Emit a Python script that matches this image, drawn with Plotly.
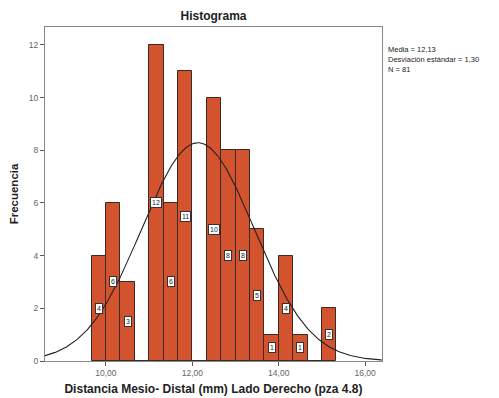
import numpy as np
import plotly.graph_objects as go

# Histogram data (bin edges at multiples of 1/3 mm)
bin_starts = [29/3, 30/3, 31/3, 32/3, 33/3, 34/3, 35/3, 36/3, 37/3, 38/3, 39/3, 40/3, 41/3, 42/3, 43/3, 44/3, 45/3]
counts = [4, 6, 3, 0, 12, 6, 11, 0, 10, 8, 8, 5, 1, 4, 1, 0, 2]
bin_width = 1/3

# Summary statistics shown in the legend
mean_val = 12.13
sd_val = 1.30
n_val = 81

x_tick_vals = [10, 12, 14, 16]
x_tick_text = ["10,00", "12,00", "14,00", "16,00"]
y_tick_vals = [0, 2, 4, 6, 8, 10, 12]

x_range = [8.59, 16.39]
y_range = [0, 12.68]

font_family = "Liberation Sans, Arial, sans-serif"
bar_color = "#D4532F"

centers = [s + bin_width / 2 for s in bin_starts]

fig = go.Figure()
fig.add_trace(go.Bar(
    x=centers, y=counts, width=bin_width,
    marker=dict(color=bar_color, line=dict(color="#3a2a25", width=1)),
    hoverinfo="x+y", showlegend=False,
))

# Normal curve from the stated mean, sd and N (scaled to bin width)
xc = np.linspace(x_range[0], x_range[1], 300)
yc = n_val * bin_width / (sd_val * np.sqrt(2 * np.pi)) * np.exp(-0.5 * ((xc - mean_val) / sd_val) ** 2)
fig.add_trace(go.Scatter(x=xc, y=yc, mode="lines",
                         line=dict(color="#222222", width=1.1),
                         hoverinfo="skip", showlegend=False))

annotations = []
for c, v in zip(centers, counts):
    if v <= 0:
        continue
    annotations.append(dict(
        x=c, y=v / 2, xref="x", yref="y", text=str(v), showarrow=False,
        font=dict(size=7, color="#222", family=font_family),
        bgcolor="white", bordercolor="#333", borderwidth=1, borderpad=1,
    ))

annotations.append(dict(
    x=1.012, y=0.952, xref="paper", yref="paper", xanchor="left", yanchor="top",
    align="left", showarrow=False,
    text="Media = 12,13<br>Desviación estándar = 1,30<br>N = 81",
    font=dict(size=7.5, color="#222", family=font_family),
))

fig.update_layout(
    width=499, height=398,
    margin=dict(l=45, r=117, t=27, b=37),
    paper_bgcolor="white", plot_bgcolor="white",
    font=dict(family=font_family),
    title=dict(text="<b>Histograma</b>", x=(45 + 382) / 2 / 499, xanchor="center",
               y=1 - 16 / 398, yanchor="middle",
               font=dict(size=12, color="#222", family=font_family)),
    bargap=0,
    annotations=annotations,
    xaxis=dict(range=x_range, tickvals=x_tick_vals, ticktext=x_tick_text,
               ticks="outside", ticklen=4, tickcolor="#555", tickwidth=1,
               tickfont=dict(size=8.5, color="#666", family=font_family),
               showline=True, linecolor="#888", linewidth=1, mirror=True,
               showgrid=False, zeroline=False, automargin=False,
               title=dict(text="<b>Distancia Mesio- Distal (mm) Lado Derecho (pza 4.8)</b>",
                          font=dict(size=12, color="#222", family=font_family), standoff=7)),
    yaxis=dict(range=y_range, tickvals=y_tick_vals,
               ticks="outside", ticklen=4, tickcolor="#555", tickwidth=1,
               tickfont=dict(size=8.5, color="#666", family=font_family),
               showline=True, linecolor="#888", linewidth=1, mirror=True,
               showgrid=False, zeroline=False, automargin=False,
               title=dict(text="<b>Frecuencia</b>",
                          font=dict(size=11.5, color="#222", family=font_family), standoff=7)),
)

fig.write_html("out.html", config={"displayModeBar": False},
               post_script="document.body.style.margin='0';")
